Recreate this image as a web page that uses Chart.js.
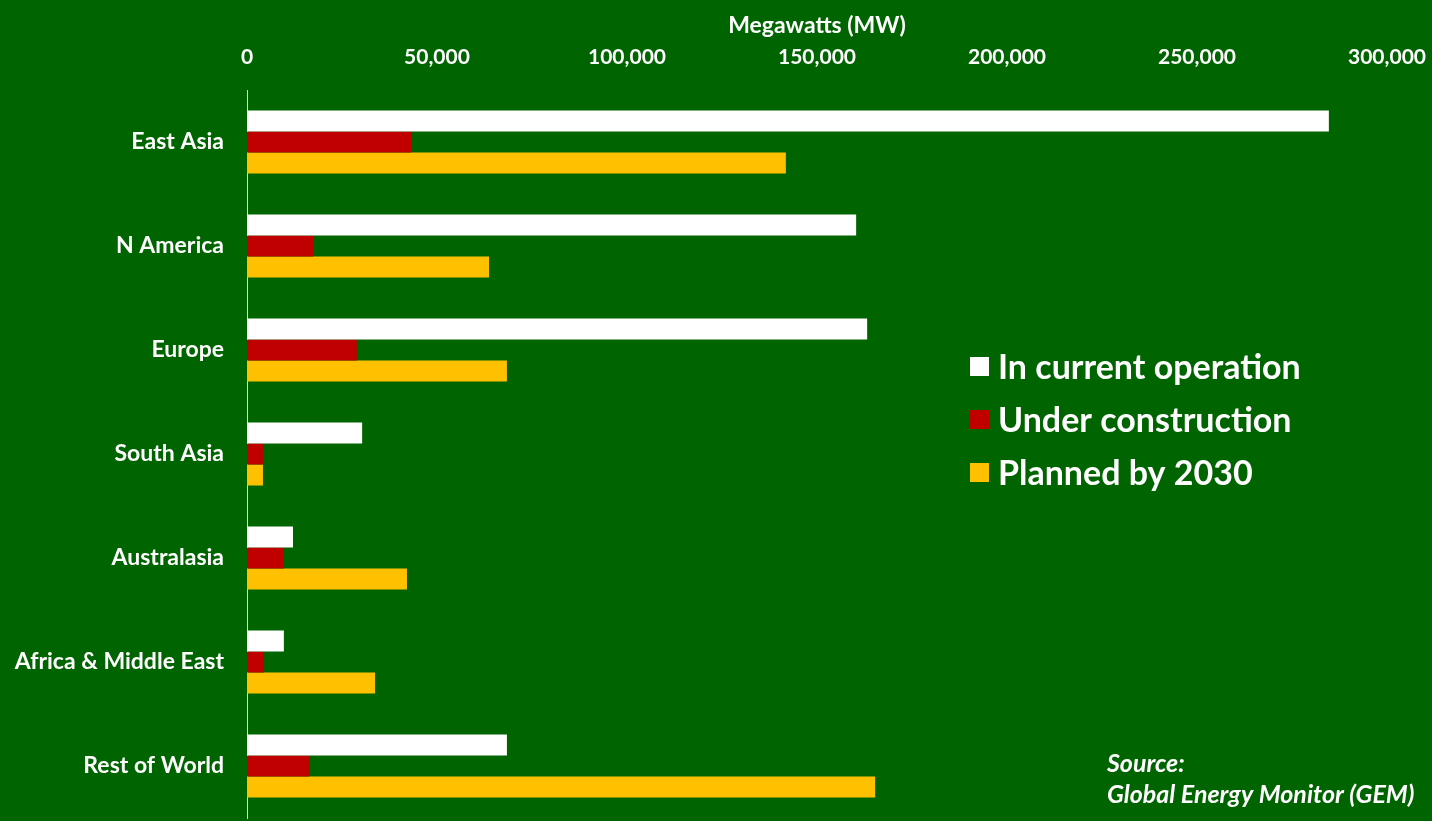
<!DOCTYPE html>
<html>
<head>
<meta charset="utf-8">
<script src="https://cdn.jsdelivr.net/npm/chart.js@4.4.1/dist/chart.umd.min.js"></script>
<style>
  body { margin: 0; background: #006400; }
  #wrap { width: 1432px; height: 821px; }
</style>
</head>
<body>
<div id="wrap"><canvas id="gasChart" width="1432" height="821"></canvas></div>
<script>
// regions and capacity (MW)
const regions = ['East Asia', 'N America', 'Europe', 'South Asia', 'Australasia', 'Africa & Middle East', 'Rest of World'];
const currentOperation = [284700, 160300, 163200, 30300, 12100, 9700, 68400];
const underConstruction = [43200, 17400, 28900, 4200, 9700, 4500, 16300];
const plannedBy2030 = [141800, 63700, 68400, 4200, 42100, 33700, 165300];
const seriesNames = ['In current operation', 'Under construction', 'Planned by 2030'];
const sourceLines = ['Source:', 'Global Energy Monitor (GEM)'];

const FONT = 'Lato, "Open Sans", sans-serif';

// legend + source note drawn inside the plot area
const overlayPlugin = {
    id: 'overlay',
    afterDraw(chart) {
        const ctx = chart.ctx;
        ctx.save();
        ctx.textBaseline = 'middle';
        ctx.textAlign = 'left';
        ctx.font = 'bold 34px ' + FONT;
        chart.data.datasets.forEach((ds, i) => {
            const y = 367 + i * 53;
            ctx.fillStyle = ds.backgroundColor;
            ctx.fillRect(970, y - 10, 19, 19);
            ctx.fillStyle = '#ffffff';
            ctx.fillText(ds.label, 998, y + 1);
        });
        ctx.font = 'italic bold 25px ' + FONT;
        ctx.fillText(sourceLines[0], 1107, 764);
        ctx.fillText(sourceLines[1], 1107, 795);
        ctx.restore();
    }
};

const ctx = document.getElementById('gasChart').getContext('2d');
new Chart(ctx, {
    type: 'bar',
    data: {
        labels: regions,
        datasets: [
            { label: seriesNames[0], data: currentOperation, backgroundColor: '#ffffff' },
            { label: seriesNames[1], data: underConstruction, backgroundColor: '#c00000' },
            { label: seriesNames[2], data: plannedBy2030, backgroundColor: '#ffc000' }
        ]
    },
    options: {
        indexAxis: 'y',
        responsive: false,
        animation: false,
        layout: { padding: { left: 0, right: 45, top: 0, bottom: 3 } },
        datasets: {
            bar: { barPercentage: 1.0, categoryPercentage: 0.606 }
        },
        plugins: {
            legend: { display: false },
            tooltip: { enabled: false }
        },
        scales: {
            x: {
                position: 'top',
                min: 0,
                max: 300000,
                ticks: {
                    stepSize: 50000,
                    color: '#ffffff',
                    padding: 12,
                    font: { family: FONT, size: 21, weight: 'bold' }
                },
                grid: { display: false },
                border: { display: false },
                title: {
                    display: true,
                    text: 'Megawatts (MW)',
                    color: '#ffffff',
                    padding: { top: 12, bottom: 0 },
                    font: { family: FONT, size: 23, weight: 'bold' }
                },
                afterFit(scale) {
                    scale.height = 90;
                    scale.paddingLeft = 0;
                    scale.paddingRight = 0;
                }
            },
            y: {
                ticks: {
                    color: '#ffffff',
                    padding: 15,
                    font: { family: FONT, size: 23, weight: 'bold' }
                },
                grid: { display: false },
                border: { display: true, color: '#d9d9d9', width: 1 },
                afterFit(scale) {
                    scale.width = 247;
                    scale.paddingTop = 0;
                    scale.paddingBottom = 0;
                }
            }
        }
    },
    plugins: [overlayPlugin]
});
</script>
</body>
</html>
